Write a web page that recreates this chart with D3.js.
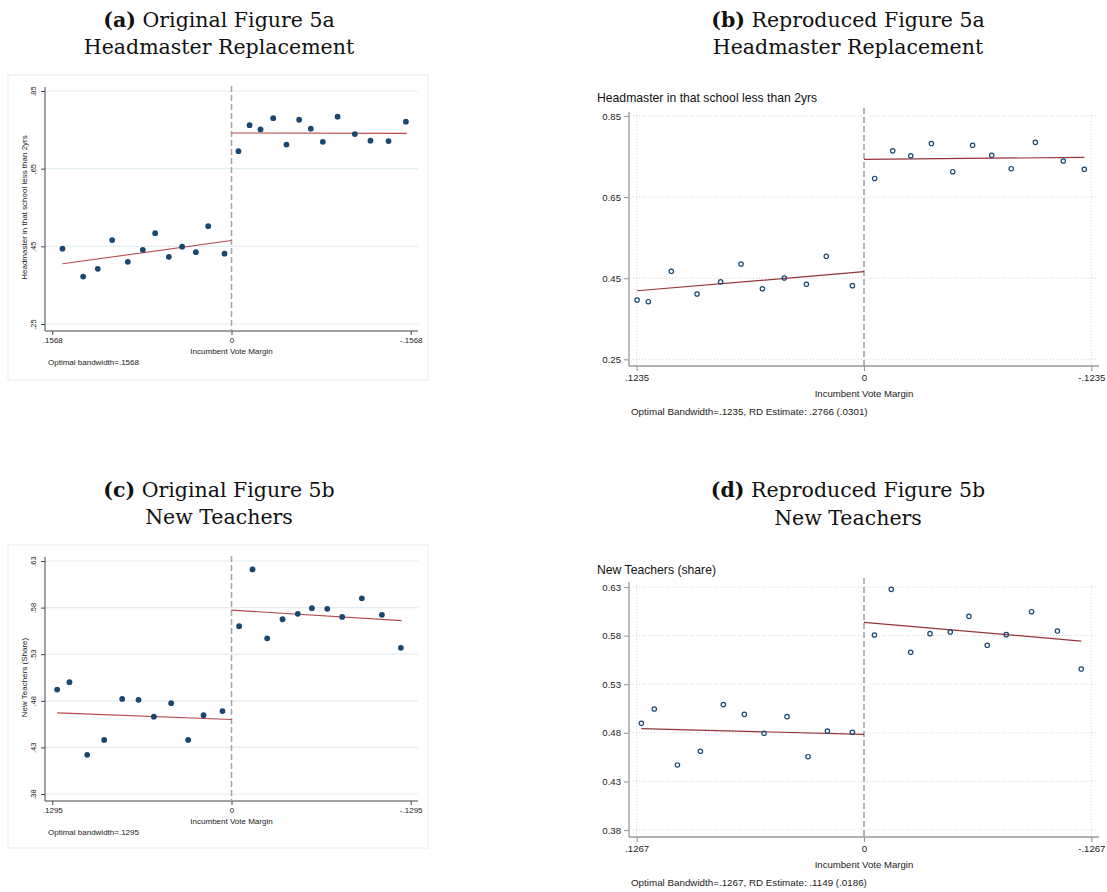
<!DOCTYPE html>
<html>
<head>
<meta charset="utf-8">
<script src="https://cdn.jsdelivr.net/npm/d3@7"></script>
<style>
  html, body { margin: 0; padding: 0; background: #fff; }
  svg { display: block; }
</style>
</head>
<body>
<svg id="chart" width="1107" height="892"></svg>
<script>
// ---------------- DATA ----------------
// Panel (a) Original Figure 5a – Headmaster Replacement (bandwidth .1568)
const aTicksY = [0.25, 0.45, 0.65, 0.85];
const aTickLabelsY = [".25", ".45", ".65", ".85"];
const aTicksX = [0.1568, 0, -0.1568];
const aTickLabelsX = [".1568", "0", "-.1568"];
const aLeftX  = [0.1479, 0.1298, 0.1170, 0.1044, 0.0907, 0.0776, 0.0668, 0.0548, 0.0432, 0.0312, 0.0204, 0.0061];
const aLeftY  = [0.444, 0.372, 0.392, 0.466, 0.410, 0.441, 0.484, 0.423, 0.449, 0.435, 0.502, 0.431];
const aRightX = [-0.0061, -0.0158, -0.0254, -0.0365, -0.0481, -0.0592, -0.0694, -0.0799, -0.0928, -0.1079, -0.1216, -0.1374, -0.1526];
const aRightY = [0.695, 0.762, 0.751, 0.780, 0.712, 0.776, 0.753, 0.719, 0.784, 0.739, 0.722, 0.721, 0.771];
const aFitLeft  = [[0.1479, 0.405], [0, 0.465]];
const aFitRight = [[0, 0.742], [-0.1534, 0.741]];

// Panel (b) Reproduced Figure 5a (bandwidth .1235)
const bTicksY = [0.25, 0.45, 0.65, 0.85];
const bTickLabelsY = ["0.25", "0.45", "0.65", "0.85"];
const bTicksX = [0.1235, 0, -0.1235];
const bTickLabelsX = [".1235", "0", "-.1235"];
const bLeftX  = [0.1233, 0.1172, 0.1047, 0.0907, 0.0779, 0.0668, 0.0552, 0.0433, 0.0313, 0.0205, 0.0063];
const bLeftY  = [0.396, 0.392, 0.467, 0.411, 0.441, 0.485, 0.424, 0.4505, 0.435, 0.504, 0.4316];
const bRightX = [-0.0058, -0.0156, -0.0254, -0.0366, -0.0482, -0.0590, -0.0694, -0.0800, -0.0931, -0.1083, -0.1197];
const bRightY = [0.696, 0.764, 0.752, 0.782, 0.7127, 0.7777, 0.753, 0.720, 0.785, 0.739, 0.7185];
const bFitLeft  = [[0.1233, 0.419], [0, 0.466]];
const bFitRight = [[0, 0.743], [-0.1197, 0.748]];

// Panel (c) Original Figure 5b – New Teachers (bandwidth .1295)
const cTicksY = [0.38, 0.43, 0.48, 0.53, 0.58, 0.63];
const cTickLabelsY = [".38", ".43", ".48", ".53", ".58", ".63"];
const cTicksX = [0.1295, 0, -0.1295];
const cTickLabelsX = [".1295", "0", "-.1295"];
const cLeftX  = [0.1260, 0.1171, 0.1043, 0.0920, 0.0790, 0.0672, 0.0561, 0.0436, 0.0313, 0.0202, 0.0065];
const cLeftY  = [0.492, 0.500, 0.422, 0.438, 0.482, 0.481, 0.463, 0.4775, 0.438, 0.4645, 0.469];
const cRightX = [-0.0055, -0.0152, -0.0258, -0.0369, -0.0479, -0.0581, -0.0692, -0.0800, -0.0942, -0.1087, -0.1224];
const cRightY = [0.560, 0.621, 0.547, 0.5675, 0.5733, 0.5794, 0.5787, 0.570, 0.590, 0.5722, 0.5368];
const cFitLeft  = [[0.1260, 0.467], [0, 0.460]];
const cFitRight = [[0, 0.5773], [-0.1229, 0.566]];

// Panel (d) Reproduced Figure 5b (bandwidth .1267)
const dTicksY = [0.38, 0.43, 0.48, 0.53, 0.58, 0.63];
const dTickLabelsY = ["0.38", "0.43", "0.48", "0.53", "0.58", "0.63"];
const dTicksX = [0.1267, 0, -0.1267];
const dTickLabelsX = [".1267", "0", "-.1267"];
const dLeftX  = [0.1241, 0.1169, 0.1040, 0.0912, 0.0784, 0.0667, 0.0557, 0.0429, 0.0312, 0.0204, 0.0065];
const dLeftY  = [0.4897, 0.5045, 0.4469, 0.461, 0.509, 0.499, 0.4795, 0.4966, 0.4554, 0.4818, 0.4805];
const dRightX = [-0.0058, -0.0152, -0.0260, -0.0368, -0.0481, -0.0585, -0.0687, -0.0793, -0.0934, -0.1078, -0.1211];
const dRightY = [0.5806, 0.6276, 0.5628, 0.582, 0.5837, 0.5998, 0.570, 0.581, 0.6046, 0.5847, 0.5456];
const dFitLeft  = [[0.1241, 0.4843], [0, 0.4784]];
const dFitRight = [[0, 0.5936], [-0.1211, 0.5744]];

// Text
const titles = {
  a: ["(a)", " Original Figure 5a", "Headmaster Replacement"],
  b: ["(b)", " Reproduced Figure 5a", "Headmaster Replacement"],
  c: ["(c)", " Original Figure 5b", "New Teachers"],
  d: ["(d)", " Reproduced Figure 5b", "New Teachers"]
};
const yTitles = { a: "Headmaster in that school less than 2yrs", b: "Headmaster in that school less than 2yrs",
                  c: "New Teachers (Share)", d: "New Teachers (share)" };
const xTitle = "Incumbent Vote Margin";
const notes = { a: "Optimal bandwidth=.1568", b: "Optimal Bandwidth=.1235, RD Estimate: .2766 (.0301)",
                c: "Optimal bandwidth=.1295", d: "Optimal Bandwidth=.1267, RD Estimate: .1149 (.0186)" };

// ---------------- DRAW ----------------
const svg = d3.select("#chart");
const SANS = "'Liberation Sans', Arial, Helvetica, sans-serif";
const SERIF = "'DejaVu Serif', 'Liberation Serif', serif";
const NAVY = "#1a476f";

function zip(xs, ys) { return xs.map((x, i) => [x, ys[i]]); }

function drawTitle(key, cx, y1, y2) {
  const t = titles[key];
  const g = svg.append("g");
  const l1 = g.append("text").attr("x", cx).attr("y", y1).attr("text-anchor", "middle")
    .style("font-family", SERIF).style("font-size", "20.5px").attr("fill", "#111");
  l1.append("tspan").attr("font-weight", "bold").text(t[0]);
  l1.append("tspan").text(t[1]);
  g.append("text").attr("x", cx).attr("y", y2).attr("text-anchor", "middle")
    .style("font-family", SERIF).style("font-size", "20.5px").attr("fill", "#111").text(t[2]);
}

// Original (Stata s2color-like) style panels
function drawOriginal(key, cfg, d) {
  const g = svg.append("g");
  g.append("rect").attr("x", cfg.frame[0]).attr("y", cfg.frame[1])
    .attr("width", cfg.frame[2] - cfg.frame[0]).attr("height", cfg.frame[3] - cfg.frame[1])
    .attr("fill", "#fff").attr("stroke", "#e8ecee").attr("stroke-width", 1);
  const x = d3.scaleLinear().domain([d.ticksX[0], d.ticksX[2]]).range(cfg.xr);
  const y = d3.scaleLinear().domain([d.ticksY[0], d.ticksY[d.ticksY.length - 1]]).range(cfg.yr);
  g.append("g").selectAll("line").data(d.ticksY).join("line")
    .attr("x1", cfg.left).attr("x2", cfg.right).attr("y1", v => y(v)).attr("y2", v => y(v))
    .attr("stroke", "#e4eef0").attr("stroke-width", 1.2);
  const yAx = g.append("g").attr("transform", `translate(${cfg.left},0)`)
    .call(d3.axisLeft(y).tickValues(d.ticksY).tickFormat((v, i) => d.tickLabelsY[i]).tickSize(4).tickPadding(3));
  yAx.select(".domain").attr("d", `M0,${cfg.top}V${cfg.bottom}`).attr("stroke", "#444");
  yAx.selectAll(".tick line").attr("stroke", "#444");
  yAx.selectAll(".tick text").attr("transform", "rotate(-90)").attr("text-anchor", "middle")
    .attr("x", 0).attr("dy", 0).attr("y", -9)
    .style("font-family", SANS).style("font-size", "7.5px").attr("fill", "#222");
  const xAx = g.append("g").attr("transform", `translate(0,${cfg.bottom})`)
    .call(d3.axisBottom(x).tickValues(d.ticksX).tickFormat((v, i) => d.tickLabelsX[i]).tickSize(4).tickPadding(2));
  xAx.select(".domain").attr("d", `M${cfg.left},0H${cfg.right}`).attr("stroke", "#444");
  xAx.selectAll(".tick line").attr("stroke", "#444");
  xAx.selectAll(".tick text").style("font-family", SANS).style("font-size", "8px").attr("fill", "#222");
  g.append("line").attr("x1", x(0)).attr("x2", x(0)).attr("y1", cfg.top - 1).attr("y2", cfg.bottom)
    .attr("stroke", "#a8a8a8").attr("stroke-width", 1.6).attr("stroke-dasharray", "6,3");
  const line = d3.line().x(p => x(p[0])).y(p => y(p[1]));
  [d.fitL, d.fitR].forEach(f => g.append("path").attr("d", line(f)).attr("fill", "none")
    .attr("stroke", "#b5494c").attr("stroke-width", 1.1));
  g.append("g").selectAll("circle").data(zip(d.lx, d.ly).concat(zip(d.rx, d.ry))).join("circle")
    .attr("cx", p => x(p[0])).attr("cy", p => y(p[1])).attr("r", 2.9).attr("fill", NAVY);
  g.append("text").attr("transform", `translate(${cfg.ytitleX},${(cfg.yr[0] + cfg.yr[1]) / 2}) rotate(-90)`)
    .attr("text-anchor", "middle").style("font-family", SANS).style("font-size", "8px").attr("fill", "#222")
    .text(yTitles[key]);
  g.append("text").attr("x", x(0)).attr("y", cfg.bottom + 23).attr("text-anchor", "middle")
    .style("font-family", SANS).style("font-size", "8px").attr("fill", "#222").text(xTitle);
  g.append("text").attr("x", cfg.noteX).attr("y", cfg.bottom + 34)
    .style("font-family", SANS).style("font-size", "8px").attr("fill", "#222").text(notes[key]);
}

// Reproduced (Stata plain) style panels
function drawRepro(key, cfg, d) {
  const g = svg.append("g");
  const x = d3.scaleLinear().domain([d.ticksX[0], d.ticksX[2]]).range(cfg.xr);
  const y = d3.scaleLinear().domain([d.ticksY[0], d.ticksY[d.ticksY.length - 1]]).range(cfg.yr);
  g.append("g").selectAll("line").data(d.ticksY).join("line")
    .attr("x1", cfg.left + 4).attr("x2", cfg.right - 1).attr("y1", v => y(v)).attr("y2", v => y(v))
    .attr("stroke", "#c8c8c8").attr("stroke-width", 0.8).attr("stroke-dasharray", "1,2");
  g.append("g").selectAll("line").data([d.ticksX[0], d.ticksX[2]]).join("line")
    .attr("x1", v => x(v)).attr("x2", v => x(v)).attr("y1", cfg.top + 3).attr("y2", cfg.bottom - 1)
    .attr("stroke", "#c8c8c8").attr("stroke-width", 0.8).attr("stroke-dasharray", "1,2");
  const yAx = g.append("g").attr("transform", `translate(${cfg.left},0)`)
    .call(d3.axisLeft(y).tickValues(d.ticksY).tickFormat((v, i) => d.tickLabelsY[i]).tickSize(5).tickPadding(3));
  yAx.select(".domain").attr("d", `M0,${cfg.top}V${cfg.bottom}`).attr("stroke", "#999").attr("stroke-width", 1.3);
  yAx.selectAll(".tick line").attr("stroke", "#999").attr("stroke-width", 1.1);
  yAx.selectAll(".tick text").style("font-family", SANS).style("font-size", "9.6px").attr("fill", "#222");
  const xAx = g.append("g").attr("transform", `translate(0,${cfg.bottom})`)
    .call(d3.axisBottom(x).tickValues(d.ticksX).tickFormat((v, i) => d.tickLabelsX[i]).tickSize(5).tickPadding(3));
  xAx.select(".domain").attr("d", `M${cfg.left},0H${cfg.right}`).attr("stroke", "#999").attr("stroke-width", 1.3);
  xAx.selectAll(".tick line").attr("stroke", "#999").attr("stroke-width", 1.1);
  xAx.selectAll(".tick text").style("font-family", SANS).style("font-size", "9.6px").attr("fill", "#222");
  g.append("line").attr("x1", x(0)).attr("x2", x(0)).attr("y1", cfg.top - 4).attr("y2", cfg.bottom)
    .attr("stroke", "#9a9a9a").attr("stroke-width", 1.5).attr("stroke-dasharray", "6,3");
  const line = d3.line().x(p => x(p[0])).y(p => y(p[1]));
  [d.fitL, d.fitR].forEach(f => g.append("path").attr("d", line(f)).attr("fill", "none")
    .attr("stroke", "#94343a").attr("stroke-width", 1.2));
  g.append("g").selectAll("circle").data(zip(d.lx, d.ly).concat(zip(d.rx, d.ry))).join("circle")
    .attr("cx", p => x(p[0])).attr("cy", p => y(p[1])).attr("r", 2.2)
    .attr("fill", "none").attr("stroke", NAVY).attr("stroke-width", 1.2);
  g.append("text").attr("x", cfg.titleX).attr("y", cfg.titleY)
    .style("font-family", SANS).style("font-size", "12.2px").attr("fill", "#111").text(yTitles[key]);
  g.append("text").attr("x", x(0)).attr("y", cfg.bottom + 31).attr("text-anchor", "middle")
    .style("font-family", SANS).style("font-size", "9.6px").attr("fill", "#222").text(xTitle);
  g.append("text").attr("x", cfg.noteX).attr("y", cfg.bottom + 49)
    .style("font-family", SANS).style("font-size", "9.8px").attr("fill", "#222").text(notes[key]);
}

drawTitle("a", 219, 27, 54);
drawTitle("b", 848, 27, 54);
drawTitle("c", 219, 497, 524);
drawTitle("d", 848, 497, 525);

drawOriginal("a", { frame: [8, 75, 428, 380], left: 45, right: 418, top: 87, bottom: 331,
  xr: [52.3, 410.7], yr: [324, 91], ytitleX: 27, noteX: 48 },
  { ticksY: aTicksY, tickLabelsY: aTickLabelsY, ticksX: aTicksX, tickLabelsX: aTickLabelsX,
    lx: aLeftX, ly: aLeftY, rx: aRightX, ry: aRightY, fitL: aFitLeft, fitR: aFitRight });

drawOriginal("c", { frame: [8, 545, 428, 848], left: 45, right: 418, top: 557, bottom: 801,
  xr: [52.3, 410.7], yr: [794, 561], ytitleX: 27, noteX: 48 },
  { ticksY: cTicksY, tickLabelsY: cTickLabelsY, ticksX: cTicksX, tickLabelsX: cTickLabelsX,
    lx: cLeftX, ly: cLeftY, rx: cRightX, ry: cRightY, fitL: cFitLeft, fitR: cFitRight });

drawRepro("b", { left: 629, right: 1099, top: 112, bottom: 366, xr: [636.7, 1091.3], yr: [359.3, 116],
  titleX: 597, titleY: 102, noteX: 631 },
  { ticksY: bTicksY, tickLabelsY: bTickLabelsY, ticksX: bTicksX, tickLabelsX: bTickLabelsX,
    lx: bLeftX, ly: bLeftY, rx: bRightX, ry: bRightY, fitL: bFitLeft, fitR: bFitRight });

drawRepro("d", { left: 629, right: 1099, top: 582, bottom: 837, xr: [636.7, 1091.3], yr: [830, 587],
  titleX: 597, titleY: 574, noteX: 631 },
  { ticksY: dTicksY, tickLabelsY: dTickLabelsY, ticksX: dTicksX, tickLabelsX: dTickLabelsX,
    lx: dLeftX, ly: dLeftY, rx: dRightX, ry: dRightY, fitL: dFitLeft, fitR: dFitRight });
</script>
</body>
</html>
